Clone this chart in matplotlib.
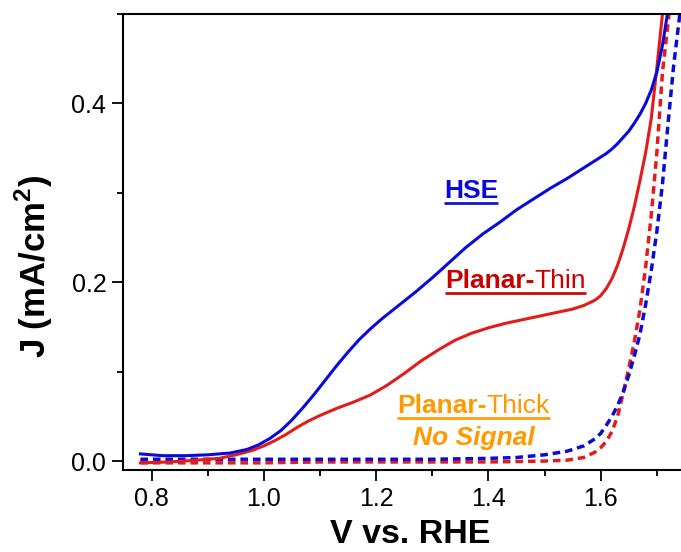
import matplotlib
matplotlib.use('Agg')
import matplotlib.pyplot as plt
from matplotlib.ticker import MultipleLocator, FormatStrFormatter

plt.rcParams['font.family'] = ['Liberation Sans', 'DejaVu Sans']
plt.rcParams['mathtext.fontset'] = 'custom'
plt.rcParams['mathtext.rm'] = 'Liberation Sans'
plt.rcParams['mathtext.bf'] = 'Liberation Sans:bold'

# HSE, solid blue
hse_v = [0.78, 0.82, 0.86, 0.90, 0.94, 0.97, 0.99, 1.01, 1.03, 1.05, 1.07, 1.09,
         1.11, 1.13, 1.15, 1.17, 1.19, 1.21, 1.23, 1.25, 1.27, 1.30, 1.33, 1.36,
         1.39, 1.42, 1.45, 1.48, 1.51, 1.54, 1.58, 1.60, 1.61, 1.62, 1.63, 1.64,
         1.65, 1.66, 1.67, 1.68, 1.69, 1.70, 1.71, 1.72]
hse_j = [0.008, 0.006, 0.006, 0.007, 0.009, 0.013, 0.018, 0.025, 0.034, 0.046, 0.060, 0.075,
         0.091, 0.107, 0.122, 0.136, 0.148, 0.159, 0.169, 0.179, 0.189, 0.205, 0.222, 0.239,
         0.254, 0.267, 0.281, 0.293, 0.305, 0.316, 0.332, 0.340, 0.344, 0.349, 0.355, 0.362,
         0.369, 0.378, 0.388, 0.400, 0.415, 0.435, 0.465, 0.505]

# Planar-Thin, solid red
thin_v = [0.78, 0.83, 0.88, 0.92, 0.95, 0.98, 1.00, 1.02, 1.04, 1.06, 1.08, 1.10,
          1.13, 1.16, 1.19, 1.22, 1.25, 1.28, 1.31, 1.34, 1.37, 1.40, 1.43, 1.46,
          1.49, 1.52, 1.55, 1.57, 1.59, 1.60, 1.61, 1.62, 1.63, 1.64, 1.65, 1.66,
          1.67, 1.68, 1.69, 1.70, 1.71]
thin_j = [-0.002, -0.001, 0.001, 0.003, 0.007, 0.012, 0.017, 0.023, 0.030, 0.038, 0.045, 0.051,
          0.059, 0.066, 0.074, 0.085, 0.098, 0.112, 0.124, 0.135, 0.143, 0.149, 0.154, 0.158,
          0.162, 0.166, 0.170, 0.174, 0.180, 0.185, 0.193, 0.204, 0.219, 0.238, 0.260, 0.285,
          0.314, 0.345, 0.383, 0.440, 0.500]

# Planar-Thick, dashed red
thick_r_v = [0.78, 0.90, 1.00, 1.10, 1.20, 1.30, 1.40, 1.50, 1.54, 1.57, 1.59, 1.60,
             1.61, 1.62, 1.63, 1.64, 1.65, 1.66, 1.67, 1.68, 1.69, 1.70, 1.71, 1.72, 1.725]
thick_r_j = [-0.002, -0.002, -0.002, -0.001, -0.001, -0.001, -0.001, 0.000, 0.001, 0.004, 0.010, 0.015,
             0.022, 0.033, 0.050, 0.076, 0.104, 0.134, 0.170, 0.217, 0.275, 0.345, 0.435, 0.490, 0.520]

# Planar-Thick, dashed blue
thick_b_v = [0.78, 0.90, 1.00, 1.10, 1.20, 1.30, 1.40, 1.45, 1.50, 1.54, 1.57, 1.59,
             1.60, 1.61, 1.62, 1.63, 1.64, 1.65, 1.66, 1.67, 1.68, 1.69, 1.70, 1.71,
             1.72, 1.73, 1.74, 1.75]
thick_b_j = [0.002, 0.002, 0.002, 0.002, 0.002, 0.002, 0.003, 0.004, 0.007, 0.011, 0.017, 0.025,
             0.031, 0.040, 0.050, 0.062, 0.077, 0.096, 0.118, 0.142, 0.175, 0.213, 0.257, 0.310,
             0.378, 0.443, 0.495, 0.550]

blue = '#0a0ad8'
red = '#e41b1b'
dark_red = '#c80000'
orange = '#ff9900'

fig = plt.figure(figsize=(6.81, 5.52), dpi=100)
ax = fig.add_axes([123 / 681, 82 / 552, 558 / 681, 456 / 552])

lw = 2.2
dash = (0, (2.2, 1.4))
ax.plot(thick_r_v, thick_r_j, color=red, lw=2.5, ls=dash)
ax.plot(thick_b_v, thick_b_j, color=blue, lw=2.5, ls=dash)
ax.plot(thin_v, thin_j, color=red, lw=lw)
ax.plot(hse_v, hse_j, color=blue, lw=lw)

ax.set_xlim(0.749, 1.743)
ax.set_ylim(-0.01, 0.5)

ax.spines['right'].set_visible(False)
for s in ['left', 'bottom', 'top']:
    ax.spines[s].set_linewidth(1.5)

ax.xaxis.set_major_locator(MultipleLocator(0.2))
ax.xaxis.set_minor_locator(MultipleLocator(0.1))
ax.yaxis.set_major_locator(MultipleLocator(0.2))
ax.yaxis.set_minor_locator(MultipleLocator(0.1))
ax.xaxis.set_major_formatter(FormatStrFormatter('%.1f'))
ax.yaxis.set_major_formatter(FormatStrFormatter('%.1f'))
ax.tick_params(which='major', direction='out', length=8, width=1.3, labelsize=18, pad=4)
ax.tick_params(which='minor', direction='out', length=4.5, width=1.3)
ax.tick_params(top=False, right=False, which='both')

ax.set_xlabel('V vs. RHE', fontsize=24.5, fontweight='bold')
ax.set_ylabel('J (mA/cm$^\\mathregular{2}$)', fontsize=25, fontweight='bold')
ax.xaxis.set_label_coords(0.514, -0.107)
ax.yaxis.set_label_coords(-0.122, 0.447)

fs = 19
t_hse = ax.text(1.3206, 0.294, 'HSE', color=blue, fontsize=fs, fontweight='bold', va='baseline')

t_thin1 = ax.text(1.3224, 0.193, 'Planar-', color=dark_red, fontsize=fs, fontweight='bold', va='baseline')
t_thin2 = ax.annotate('Thin', xy=(1, 0), xycoords=t_thin1, color=dark_red, fontsize=fs, va='bottom')

t_thick1 = ax.text(1.2369, 0.0536, 'Planar-', color=orange, fontsize=fs, fontweight='bold', va='baseline')
t_thick2 = ax.annotate('Thick', xy=(1, 0), xycoords=t_thick1, color=orange, fontsize=fs, va='bottom')

ax.text(1.374, 0.0179, 'No Signal', color=orange, fontsize=fs, fontweight='bold',
        style='italic', ha='center', va='baseline')

# underline the labels: a line a few pixels below the baseline
fig.canvas.draw()
renderer = fig.canvas.get_renderer()
inv = ax.transData.inverted()


def underline(texts, base_y, color, gap=5):
    boxes = [t.get_window_extent(renderer) for t in texts]
    x0 = min(b.x0 for b in boxes)
    x1 = max(b.x1 for b in boxes)
    y_disp = ax.transData.transform((0, base_y))[1] - gap
    (dx0, dy), (dx1, _) = inv.transform([(x0, y_disp), (x1, y_disp)])
    ax.plot([dx0, dx1], [dy, dy], color=color, lw=1.9, clip_on=False, solid_capstyle='butt')


underline([t_hse], 0.294, blue)
underline([t_thin1, t_thin2], 0.193, dark_red)
underline([t_thick1, t_thick2], 0.0536, orange)

fig.savefig('out.png', dpi=100)
